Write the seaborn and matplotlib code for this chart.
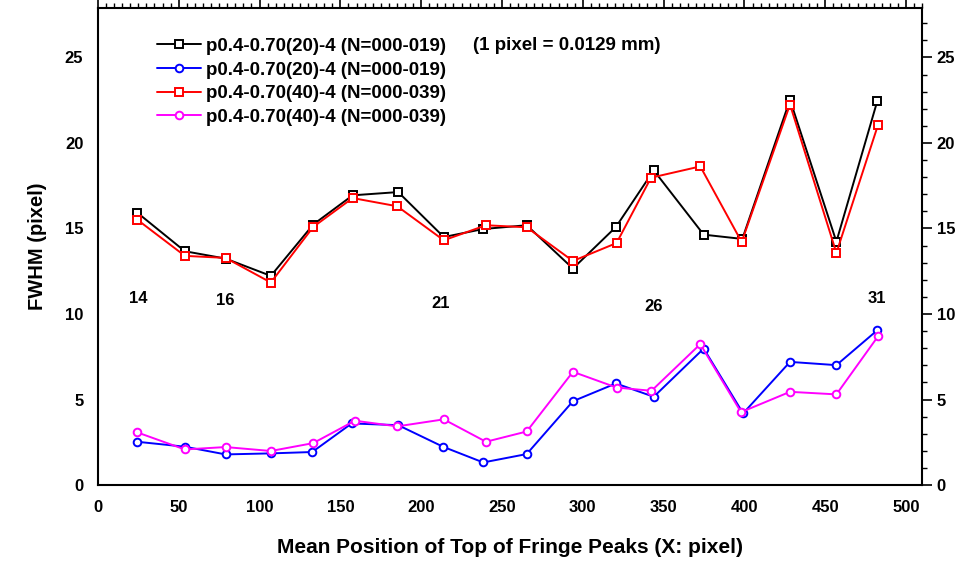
import matplotlib
matplotlib.use("Agg")
import matplotlib.pyplot as plt
import seaborn as sns
import pandas as pd
from matplotlib.ticker import MultipleLocator

# ---- data ----
x_black = [24.3, 53.8, 79.0, 107.0, 133.2, 157.6, 185.8, 214.0, 238.4, 265.3, 293.9, 320.5, 343.9, 374.8, 398.7, 428.2, 456.9, 482.2]
y_black = [15.93, 13.67, 13.24, 12.23, 15.23, 16.94, 17.13, 14.50, 14.97, 15.19, 12.66, 15.09, 18.40, 14.64, 14.39, 22.53, 14.23, 22.45]

x_blue = [24.3, 53.8, 79.0, 107.0, 132.6, 157.0, 185.8, 213.5, 238.4, 265.3, 293.9, 320.5, 343.9, 374.8, 399.2, 428.2, 456.9, 482.2]
y_blue = [2.53, 2.24, 1.79, 1.85, 1.93, 3.60, 3.50, 2.24, 1.32, 1.81, 4.90, 5.94, 5.16, 7.98, 4.19, 7.20, 7.01, 9.05]

x_red = [24.3, 53.8, 79.0, 107.0, 133.2, 157.6, 185.2, 214.0, 240.1, 265.3, 293.9, 320.9, 342.2, 372.7, 398.3, 428.2, 456.9, 482.7]
y_red = [15.52, 13.40, 13.28, 11.84, 15.09, 16.78, 16.30, 14.31, 15.19, 15.07, 13.10, 14.15, 17.97, 18.63, 14.21, 22.25, 13.57, 21.07]

x_mag = [24.3, 53.8, 79.0, 107.0, 133.2, 159.0, 185.2, 214.0, 240.1, 265.3, 293.9, 320.9, 342.5, 372.7, 397.9, 428.2, 456.9, 482.7]
y_mag = [3.08, 2.08, 2.22, 1.99, 2.45, 3.76, 3.43, 3.84, 2.53, 3.13, 6.62, 5.70, 5.51, 8.24, 4.26, 5.45, 5.30, 8.70]

labels = ["p0.4-0.70(20)-4 (N=000-019)", "p0.4-0.70(20)-4 (N=000-019)",
          "p0.4-0.70(40)-4 (N=000-039)", "p0.4-0.70(40)-4 (N=000-039)"]

peak_ids = ["14", "16", "21", "26", "31"]
peak_x = [25, 79, 212, 344, 482]
peak_y = [10.9, 10.8, 10.6, 10.45, 10.9]

note = "(1 pixel = 0.0129 mm)"

# ---- plot ----
sns.set_theme(style="white")
plt.rcParams['font.family'] = ['Liberation Sans', 'DejaVu Sans']
plt.rcParams['font.weight'] = 'bold'
plt.rcParams['text.color'] = 'black'
plt.rcParams['axes.labelcolor'] = 'black'
plt.rcParams['xtick.color'] = 'black'
plt.rcParams['ytick.color'] = 'black'

fig = plt.figure(figsize=(9.79, 5.63), dpi=100)
ax = fig.add_axes([0.1, 0.1385, 0.842, 0.8475])

series = [
    (x_black, y_black, "black", "s"),
    (x_blue, y_blue, "blue", "o"),
    (x_red, y_red, "red", "s"),
    (x_mag, y_mag, "magenta", "o"),
]
for (xs, ys, c, m), lab in zip(series, labels):
    df = pd.DataFrame({"x": xs, "y": ys})
    sns.lineplot(data=df, x="x", y="y", ax=ax, color=c, marker=m,
                 markersize=5.5, markerfacecolor="white", markeredgecolor=c,
                 markeredgewidth=1.4, linewidth=1.4, label=lab, sort=False)

for t, xv, yv in zip(peak_ids, peak_x, peak_y):
    ax.text(xv, yv, t, ha="center", va="center", fontsize=12, fontweight="bold",
            color="black")

ax.text(290, 25.7, note, ha="center", va="center", fontsize=13.5,
        fontweight="bold", color="black")

ax.set_xlim(0, 510)
ax.set_ylim(0, 27.9)
ax.xaxis.set_major_locator(MultipleLocator(50))
ax.xaxis.set_minor_locator(MultipleLocator(5))
ax.yaxis.set_major_locator(MultipleLocator(5))
ax.yaxis.set_minor_locator(MultipleLocator(1))
ax.tick_params(which="both", direction="out", top=True, right=True,
               labelright=True, colors="black", labelsize=12, width=1.2)
ax.tick_params(which="major", length=7)
ax.tick_params(which="minor", length=3.5, width=1)
for lab in ax.get_xticklabels() + ax.get_yticklabels():
    lab.set_fontweight("bold")
for sp in ax.spines.values():
    sp.set_color("black")
    sp.set_linewidth(1.5)

ax.set_xlabel("Mean Position of Top of Fringe Peaks (X: pixel)", fontsize=15,
              fontweight="bold", labelpad=17, color="black")
ax.set_ylabel("FWHM (pixel)", fontsize=14.5, fontweight="bold", labelpad=13,
              color="black")

leg = ax.legend(loc="upper left", bbox_to_anchor=(0.062, 0.953), frameon=False,
                fontsize=13.5, handlelength=2.35, handletextpad=0.3,
                labelspacing=0.35, borderaxespad=0)
for t in leg.get_texts():
    t.set_fontweight("bold")
    t.set_color("black")

fig.savefig("out.png", dpi=100)
